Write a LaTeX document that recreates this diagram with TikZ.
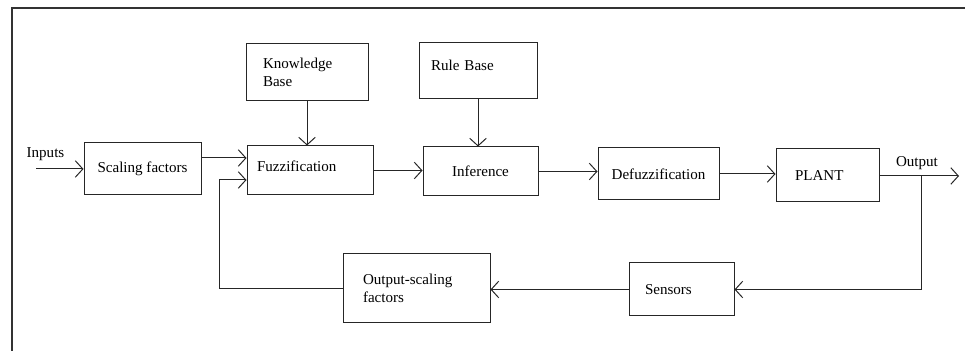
\documentclass[tikz,border=0pt]{standalone}
\usepackage{fontspec}
\setmainfont{Liberation Serif}
\usetikzlibrary{calc, arrows.meta, positioning}
\def\px{0.664pt}
\tikzset{
    >={Straight Barb[length=5pt, width=11pt]},
    blk/.style={draw=black!85, line width=0.66pt, inner xsep=0pt, inner ysep=2pt, align=left},
    flow/.style={->, draw=black!85, line width=0.66pt},
    font=\fontsize{10}{12}\selectfont
}

\begin{document}
\begin{tikzpicture}[x=\px, y=-\px]
    \useasboundingbox (0,0) rectangle (965,351);
    % frame, only top and left edges show
    \draw[black!80, line width=1.4pt] (12,351) |- (965,8);

    % forward path
    \node[blk, minimum width=117*\px, minimum height=52*\px] (scal) at (142.5,169) {Scaling factors};
    \node[blk, minimum width=122*\px, minimum height=57*\px, text width=88*\px] (kb) at (307,72.5) {Knowledge\\Base};
    \node[blk, minimum width=126*\px, minimum height=49*\px, text width=106*\px, text depth=6pt] (fuz) at (310,170.5) {Fuzzification};
    \node[blk, minimum width=118*\px, minimum height=56*\px, text width=94*\px, text depth=8pt] (rb) at (478,71) {Rule Base};
    \node[blk, minimum width=115*\px, minimum height=49*\px] (inf) at (480.5,171.5) {Inference};
    \node[blk, minimum width=121*\px, minimum height=52*\px] (def) at (658.5,174) {Defuzzification};
    \node[blk, minimum width=103*\px, minimum height=53*\px, text width=65*\px] (plant) at (827.5,175.5) {PLANT};

    % feedback path
    \node[blk, minimum width=105*\px, minimum height=53*\px, text width=73*\px] (sens) at (681.5,289.5) {Sensors};
    \node[blk, minimum width=147*\px, minimum height=69*\px, text width=107*\px] (osf) at (416.5,288.5) {Output-scaling\\factors};

    % free ends and taps
    \coordinate (in) at (36,169);
    \coordinate (out) at (959,176);
    \coordinate (tap) at (921,176);
    \coordinate (fuzin1) at ($(fuz.west)+(0,-12.5)$);
    \coordinate (fuzin2) at ($(fuz.west)+(0,9.5)$);

    \node (inlbl) at (45.5,154) {Inputs};
    \node (outlbl) at (917,163) {Output};

    \draw[flow] (in) -- (scal.west);
    \draw[flow] (scal.east |- fuzin1) -- (fuzin1);
    \draw[flow] (kb.south) -- (kb.south |- fuz.north);
    \draw[flow] (fuz.east) -- (fuz.east -| inf.west);
    \draw[flow] (rb.south) -- (rb.south |- inf.north);
    \draw[flow] (inf.east) -- (inf.east -| def.west);
    \draw[flow] (def.east) -- (def.east -| plant.west);
    \draw[flow] (plant.east |- out) -- (out);
    \draw[flow] (tap) |- (sens.east);
    \draw[flow] (sens.west) -- (sens.west -| osf.east);
    \draw[flow] (osf.west) -- ++(-123,0) |- (fuzin2);
\end{tikzpicture}
\end{document}
